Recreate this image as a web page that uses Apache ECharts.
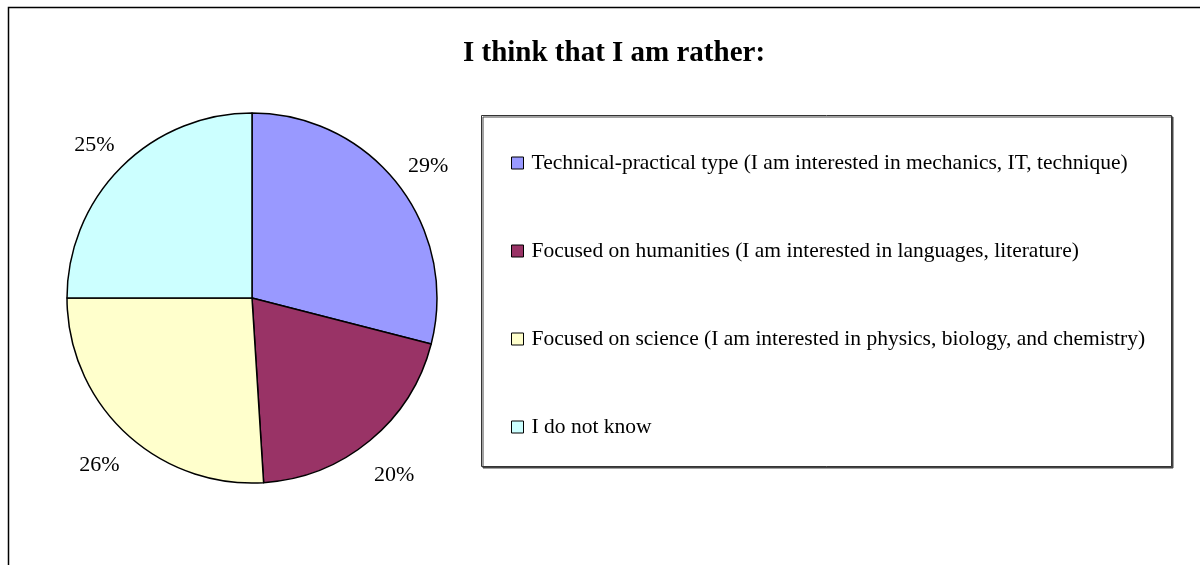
<!DOCTYPE html>
<html>
<head>
<meta charset="utf-8">
<script src="https://cdn.jsdelivr.net/npm/echarts@6/dist/echarts.min.js"></script>
<style>
  html, body { margin: 0; padding: 0; background: #fff; }
  #chart { width: 1200px; height: 565px; }
</style>
</head>
<body>
<div id="chart"></div>
<script>
const categories = [
  'Technical-practical type (I am interested in mechanics, IT, technique)',
  'Focused on humanities (I am interested in languages, literature)',
  'Focused on science (I am interested in physics, biology, and chemistry)',
  'I do not know'
];
const shares = [29, 20, 26, 25];
const sliceColors = ['#9999ff', '#993366', '#ffffcc', '#ccffff'];

const font = '"Liberation Serif", "Times New Roman", serif';
const chart = echarts.init(document.getElementById('chart'));

const pieData = categories.map((name, i) => ({
  name, value: shares[i], itemStyle: { color: sliceColors[i] }
}));

const option = {
  backgroundColor: '#fff',
  animation: false,
  title: {
    text: 'I think that I am rather:',
    left: 609, top: 34, textAlign: 'center',
    textStyle: { fontFamily: font, fontSize: 29, fontWeight: 'bold', color: '#000' }
  },
  graphic: [
    // outer chart frame (right/bottom run off the picture)
    { type: 'rect', shape: { x: 8.5, y: 7.5, width: 1250, height: 600 },
      style: { fill: 'none', stroke: '#000', lineWidth: 1.5 }, silent: true, z: -1 },
    // legend box
    { type: 'rect', shape: { x: 481.5, y: 115.5, width: 690, height: 351 },
      style: { fill: '#fff', stroke: '#333', lineWidth: 1,
        shadowColor: '#444', shadowOffsetX: 1.5, shadowOffsetY: 1.5, shadowBlur: 0 },
      silent: true, z: -1 }
  ],
  legend: {
    orient: 'vertical',
    left: 511, top: 152, padding: 0,
    itemWidth: 12, itemHeight: 12, itemGap: 66,
    icon: 'rect',
    itemStyle: { borderColor: '#000', borderWidth: 1 },
    textStyle: { fontFamily: font, fontSize: 21.5, color: '#000', padding: [0, 0, 0, 3] },
    data: categories
  },
  series: [
    {
      type: 'pie',
      center: [252, 298],
      radius: 185,
      startAngle: 90,
      clockwise: true,
      silent: true,
      itemStyle: { borderColor: '#000', borderWidth: 1.5 },
      label: { show: false },
      labelLine: { show: false },
      data: pieData
    },
    {
      // ghost ring that only carries the percentage labels
      type: 'pie',
      center: [252, 303],
      radius: [218, 222],
      startAngle: 90,
      clockwise: true,
      silent: true,
      legendHoverLink: false,
      itemStyle: { color: 'rgba(0,0,0,0)', borderWidth: 0 },
      label: {
        show: true, position: 'inside',
        formatter: '{c}%',
        fontFamily: font, fontSize: 22, color: '#000'
      },
      labelLine: { show: false },
      data: categories.map((name, i) => ({ name, value: shares[i] }))
    }
  ]
};

chart.setOption(option);
</script>
</body>
</html>
